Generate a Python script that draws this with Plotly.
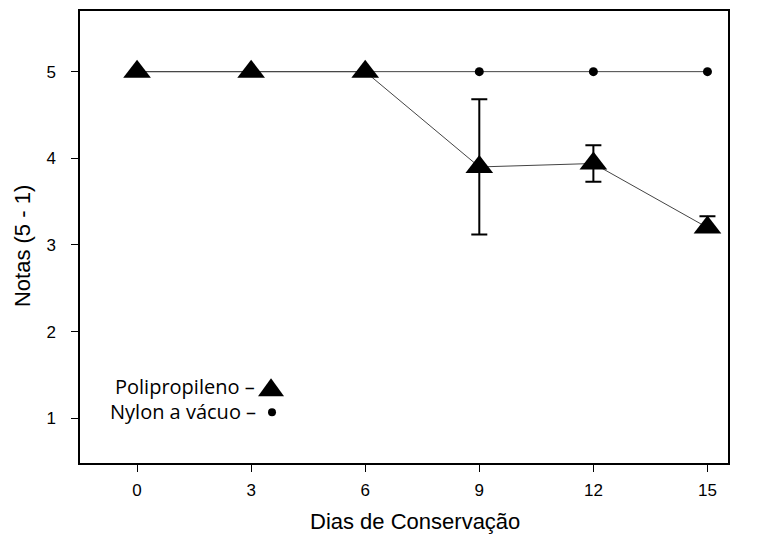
import plotly.graph_objects as go

dias = [0, 3, 6, 9, 12, 15]
polipropileno = [5, 5, 5, 3.9, 3.94, 3.2]
polipropileno_err_up = [0, 0, 0, 0.78, 0.21, 0.13]
polipropileno_err_down = [0, 0, 0, 0.78, 0.21, 0.05]
nylon = [5, 5, 5, 5, 5, 5]
x_ticks = [0, 3, 6, 9, 12, 15]
y_ticks = [1, 2, 3, 4, 5]

fig = go.Figure()
fig.add_trace(go.Scatter(
    x=dias, y=nylon, mode="lines+markers",
    line=dict(color="#444444", width=1),
    marker=dict(symbol="circle", size=9, color="black"),
    showlegend=False))
fig.add_trace(go.Scatter(
    x=dias, y=polipropileno, mode="lines+markers",
    line=dict(color="#444444", width=1),
    marker=dict(symbol="triangle-up", size=24, color="black"),
    error_y=dict(type="data", array=polipropileno_err_up,
                 arrayminus=polipropileno_err_down, visible=True,
                 color="black", thickness=2, width=8),
    showlegend=False))

tick_font = dict(family="Liberation Sans, Arial, sans-serif", size=17, color="black")
title_font = dict(family="Liberation Sans, Arial, sans-serif", size=22, color="black")
leg_font = dict(family="Open Sans, sans-serif", size=20, color="black")

fig.update_layout(
    width=749, height=531,
    margin=dict(l=72, r=29, t=1, b=76),
    plot_bgcolor="white", paper_bgcolor="white",
    xaxis=dict(range=[-1.5, 15.54], tickvals=x_ticks, ticks="outside", ticklen=7,
               tickcolor="black", showline=True, linecolor="black", linewidth=1.5,
               mirror=True, showgrid=False, zeroline=False, tickfont=tick_font,
               ticklabelstandoff=4),
    yaxis=dict(range=[0.483, 5.70], tickvals=y_ticks, ticks="outside", ticklen=7,
               tickcolor="black", showline=True, linecolor="black", linewidth=1.5,
               mirror=True, showgrid=False, zeroline=False, tickfont=tick_font,
               ticklabelstandoff=12),
    annotations=[
        dict(xref="paper", yref="paper", x=0.517, y=-0.13, xanchor="center", yanchor="middle",
             text="Dias de Conservação", showarrow=False, font=title_font),
        dict(xref="paper", yref="paper", x=-0.0895, y=0.48, xanchor="center", yanchor="middle",
             text="Notas (5 - 1)", textangle=-90, showarrow=False, font=title_font),
        dict(xref="paper", yref="paper", x=0.2731, y=0.1696, xanchor="right", yanchor="middle",
             text="Polipropileno –", showarrow=False, font=leg_font),
        dict(xref="paper", yref="paper", x=0.2750, y=0.1145, xanchor="right", yanchor="middle",
             text="Nylon a vácuo –", showarrow=False, font=leg_font),
    ],
    shapes=[
        dict(type="path", xref="paper", yref="paper", xsizemode="pixel", ysizemode="pixel",
             xanchor=0.2948, yanchor=0.1674, path="M -13,-9 L 13,-9 L 0,9 Z",
             fillcolor="black", line=dict(width=0)),
        dict(type="circle", xref="paper", yref="paper", xsizemode="pixel", ysizemode="pixel",
             xanchor=0.2963, yanchor=0.1123, x0=-4, x1=4, y0=-4, y1=4,
             fillcolor="black", line=dict(width=0)),
    ],
)
fig.write_html("out.html")
